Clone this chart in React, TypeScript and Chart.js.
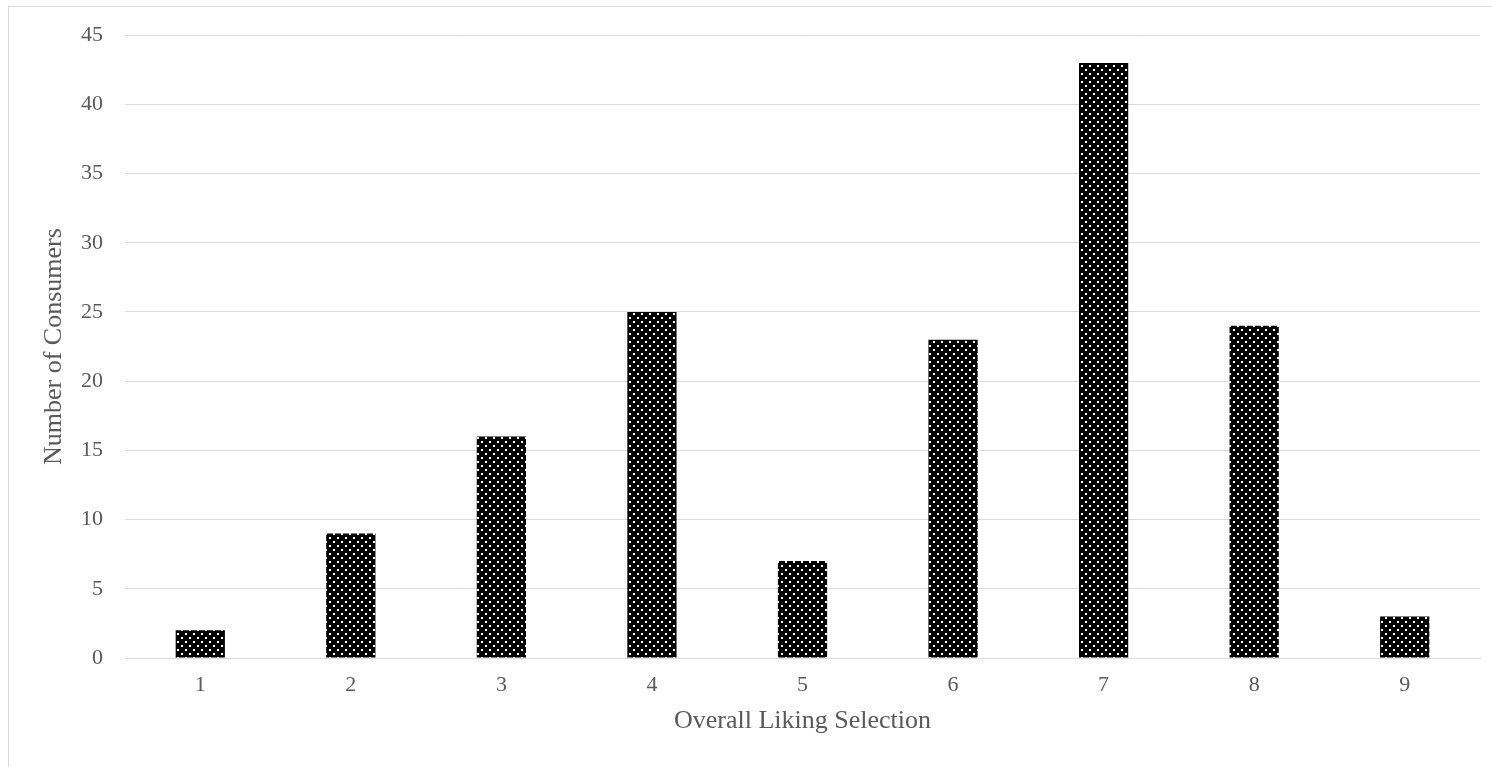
import React, { useEffect, useRef } from "react";
import { Chart, registerables } from "chart.js";

Chart.register(...registerables);

const categories = ["1", "2", "3", "4", "5", "6", "7", "8", "9"];
const consumers = [2, 9, 16, 25, 7, 23, 43, 24, 3];
const yTicks = [0, 5, 10, 15, 20, 25, 30, 35, 40, 45];
const xTitle = "Overall Liking Selection";
const yTitle = "Number of Consumers";

const W = 1492;
const H = 767;
const PLOT_LEFT = 125;
const PLOT_RIGHT = 1480;
const PLOT_TOP = 34;
const PLOT_BOTTOM = 658;

function makePattern(ctx: CanvasRenderingContext2D): CanvasPattern | string {
  const c = document.createElement("canvas");
  c.width = 8;
  c.height = 8;
  const p = c.getContext("2d");
  if (!p) return "#000";
  p.fillStyle = "#000000";
  p.fillRect(0, 0, 8, 8);
  p.fillStyle = "#ffffff";
  p.fillRect(1, 1, 2, 2);
  p.fillRect(5, 5, 2, 2);
  return ctx.createPattern(c, "repeat") || "#000";
}

export default function App() {
  const ref = useRef<HTMLCanvasElement | null>(null);

  useEffect(() => {
    const canvas = ref.current;
    if (!canvas) return;
    const ctx = canvas.getContext("2d");
    if (!ctx) return;
    const pattern = makePattern(ctx);
    const font = "'Liberation Serif', 'Times New Roman', serif";
    const chart = new Chart(canvas, {
      type: "bar",
      data: {
        labels: categories,
        datasets: [
          {
            data: consumers,
            backgroundColor: pattern as any,
            borderWidth: 0,
            barPercentage: 0.327,
            categoryPercentage: 1,
          },
        ],
      },
      options: {
        responsive: false,
        animation: false,
        devicePixelRatio: 1,
        layout: {
          padding: { left: 0, top: PLOT_TOP, right: W - PLOT_RIGHT, bottom: 0 },
        },
        plugins: {
          legend: { display: false },
          tooltip: { enabled: false },
        },
        scales: {
          x: {
            type: "category",
            offset: true,
            grid: { display: false, drawTicks: false },
            border: { display: true, color: "#d9d9d9", width: 1 },
            ticks: {
              color: "#595959",
              font: { family: font, size: 22 },
              padding: 14,
            },
            title: {
              display: true,
              text: xTitle,
              color: "#595959",
              font: { family: font, size: 26 },
              padding: { top: 0, bottom: 30 },
            },
            afterFit: (scale: any) => {
              scale.height = H - PLOT_BOTTOM;
            },
          },
          y: {
            min: 0,
            max: 45,
            afterBuildTicks: (scale: any) => {
              scale.ticks = yTicks.map((v) => ({ value: v }));
            },
            grid: { color: "#d9d9d9", drawTicks: false, lineWidth: 1 },
            border: { display: false },
            ticks: {
              color: "#595959",
              font: { family: font, size: 22 },
              padding: 22,
            },
            title: {
              display: true,
              text: yTitle,
              color: "#595959",
              font: { family: font, size: 26 },
              padding: { top: 39, bottom: 0 },
            },
            afterFit: (scale: any) => {
              scale.width = PLOT_LEFT;
            },
          },
        },
      },
    });
    return () => chart.destroy();
  }, []);

  return (
    <div
      style={{
        position: "absolute",
        left: 0,
        top: 0,
        width: W,
        height: H,
        overflow: "hidden",
        background: "#ffffff",
      }}
    >
      <div
        style={{
          position: "absolute",
          left: 8,
          top: 6,
          width: W + 40,
          height: H + 40,
          border: "1px solid #d9d9d9",
          boxSizing: "border-box",
        }}
      />
      <canvas
        ref={ref}
        width={W}
        height={H}
        style={{ position: "absolute", left: 0, top: 0, width: W, height: H }}
      />
    </div>
  );
}
